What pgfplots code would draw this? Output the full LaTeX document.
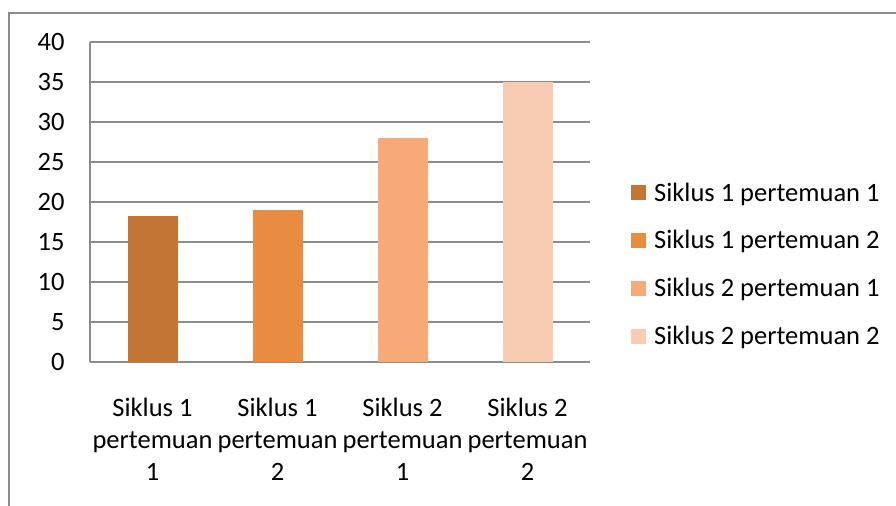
\documentclass[border=0pt]{standalone}
\usepackage{fontspec}
\setmainfont{Carlito}
\usepackage{pgfplots}
\pgfplotsset{compat=1.18}

\definecolor{barA}{RGB}{194,117,53}
\definecolor{barB}{RGB}{232,140,65}
\definecolor{barC}{RGB}{246,170,120}
\definecolor{barD}{RGB}{248,203,179}
\definecolor{gridgray}{RGB}{140,140,140}

\begin{document}
\begin{tikzpicture}[x=1bp,y=1bp]
\useasboundingbox (0,0) rectangle (896,506);
% chart frame (cropped on right and bottom)
\draw[gridgray, line width=1.5bp] (9,0) -- (9,493) -- (896,493);
\begin{axis}[
    at={(90bp,144bp)}, anchor=south west,
    scale only axis, width=500bp, height=320bp,
    ybar, bar width=50bp, bar shift=0pt,
    xmin=-0.5, xmax=3.5, ymin=0, ymax=40,
    ytick={0,5,...,40},
    xtick={0,1,2,3},
    xticklabels={{Siklus 1\\pertemuan\\1},{Siklus 1\\pertemuan\\2},{Siklus 2\\pertemuan\\1},{Siklus 2\\pertemuan\\2}},
    xticklabel style={align=center, font=\fontsize{26.5bp}{32bp}\selectfont, yshift=-33bp},
    yticklabel style={font=\fontsize{26.5bp}{30bp}\selectfont, xshift=-22bp},
    /pgf/number format/assume math mode=true,
    major tick length=0pt,
    axis x line*=bottom, axis y line*=left,
    axis line style={gridgray, line width=1.5bp, -},
    ymajorgrids, grid style={gridgray, line width=1.5bp},
    legend style={draw=none, fill=none, at={(1.076,0.305)}, anchor=west,
        font=\fontsize{26.5bp}{30bp}\selectfont, row sep=24bp,
        legend cell align=left,
        nodes={inner xsep=8bp}},
    legend image code/.code={\draw[#1, draw=none] (0bp,-7.5bp) rectangle (15bp,7.5bp);},
]
\addplot[fill=barA, draw=none] coordinates {(0,18.25)};
\addlegendentry{Siklus 1 pertemuan 1}
\addplot[fill=barB, draw=none] coordinates {(1,19)};
\addlegendentry{Siklus 1 pertemuan 2}
\addplot[fill=barC, draw=none] coordinates {(2,28)};
\addlegendentry{Siklus 2 pertemuan 1}
\addplot[fill=barD, draw=none] coordinates {(3,35)};
\addlegendentry{Siklus 2 pertemuan 2}
\end{axis}
\end{tikzpicture}
\end{document}
